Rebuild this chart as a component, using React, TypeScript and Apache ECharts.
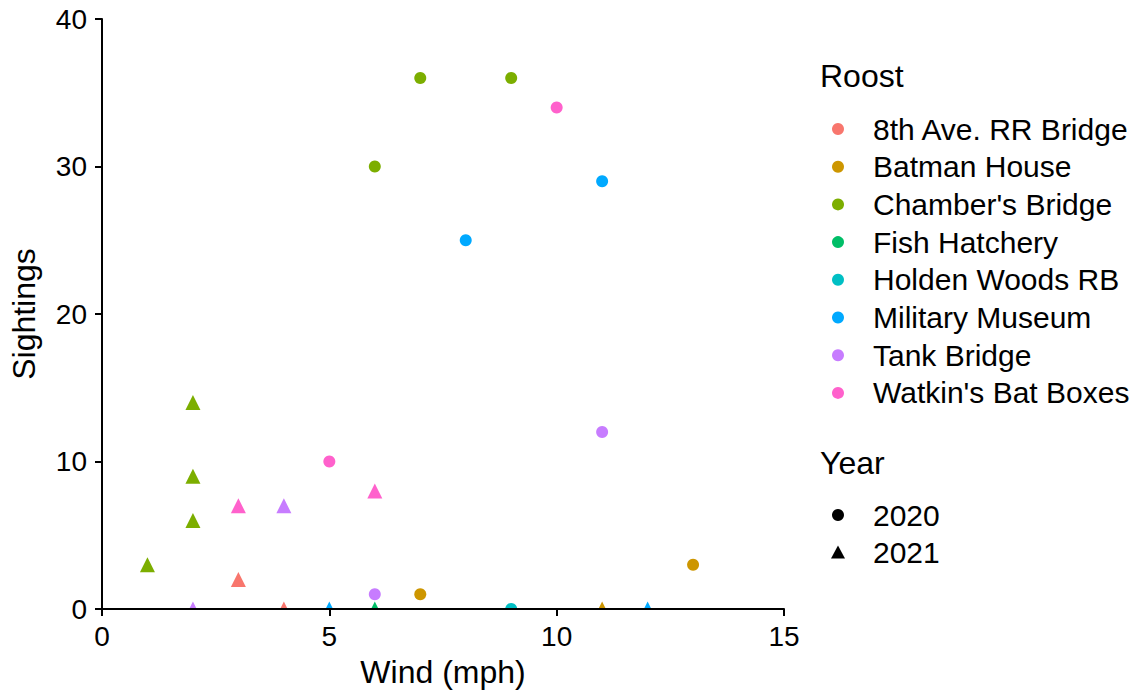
import React, { useEffect, useRef } from "react";
import * as echarts from "echarts";

const roosts = [
  "8th Ave. RR Bridge",
  "Batman House",
  "Chamber's Bridge",
  "Fish Hatchery",
  "Holden Woods RB",
  "Military Museum",
  "Tank Bridge",
  "Watkin's Bat Boxes",
];
const roostColors = ["#F8766D", "#CD9600", "#7CAE00", "#00BE67", "#00BFC4", "#00A9FF", "#C77CFF", "#FF61CC"];
const years = ["2020", "2021"];
const yearSymbols = ["circle", "triangle"];

// 2020 observations
const roost2020 = ["Chamber's Bridge", "Chamber's Bridge", "Chamber's Bridge", "Watkin's Bat Boxes", "Watkin's Bat Boxes", "Military Museum", "Military Museum", "Tank Bridge", "Tank Bridge", "Batman House", "Batman House", "Holden Woods RB"];
const wind2020 = [6, 7, 9, 10, 5, 8, 11, 11, 6, 7, 13, 9];
const sight2020 = [30, 36, 36, 34, 10, 25, 29, 12, 1, 1, 3, 0];

// 2021 observations
const roost2021 = ["Chamber's Bridge", "Chamber's Bridge", "Chamber's Bridge", "Chamber's Bridge", "Watkin's Bat Boxes", "Watkin's Bat Boxes", "Tank Bridge", "Tank Bridge", "8th Ave. RR Bridge", "8th Ave. RR Bridge", "Military Museum", "Military Museum", "Fish Hatchery", "Batman House"];
const wind2021 = [2, 2, 2, 1, 3, 6, 4, 2, 3, 4, 5, 12, 6, 11];
const sight2021 = [14, 9, 6, 3, 7, 8, 7, 0, 2, 0, 0, 0, 0, 0];

const xTicks = [0, 5, 10, 15];
const yTicks = [0, 10, 20, 30, 40];

const FONT = "Liberation Sans, Arial, sans-serif";

export default function App() {
  const ref = useRef<HTMLDivElement>(null);
  useEffect(() => {
    if (!ref.current) return;
    const chart = echarts.init(ref.current, null, { renderer: "svg" });
    const yearData = [
      { roost: roost2020, wind: wind2020, sight: sight2020 },
      { roost: roost2021, wind: wind2021, sight: sight2021 },
    ];
    const series: any[] = [];
    yearData.forEach((yd, yi) => {
      roosts.forEach((r, ri) => {
        const pts: number[][] = [];
        yd.roost.forEach((name, i) => {
          if (name === r) pts.push([yd.wind[i], yd.sight[i]]);
        });
        if (pts.length === 0) return;
        series.push({
          type: "scatter",
          name: r + " " + years[yi],
          data: pts,
          symbol: yearSymbols[yi],
          symbolSize: yi === 0 ? 12 : 15,
          itemStyle: { color: roostColors[ri], opacity: 1 },
          clip: false,
          z: 1,
        });
      });
    });

    const graphic: any[] = [];
    // mask below the panel so that points sitting on y = 0 are clipped like the panel
    graphic.push({ type: "rect", z: 2, shape: { x: 0, y: 609, width: 820, height: 90 }, style: { fill: "#fff" } });
    const lx = 820;
    graphic.push({ type: "text", z: 3, x: lx, y: 76, style: { text: "Roost", font: "32px " + FONT, fill: "#000", verticalAlign: "middle" } });
    roosts.forEach((r, i) => {
      const cy = 129 + i * 37.7;
      graphic.push({ type: "circle", z: 3, shape: { cx: 838, cy, r: 6 }, style: { fill: roostColors[i] } });
      graphic.push({ type: "text", z: 3, x: 873, y: cy, style: { text: r, font: "30px " + FONT, fill: "#000", verticalAlign: "middle" } });
    });
    graphic.push({ type: "text", z: 3, x: lx, y: 463, style: { text: "Year", font: "32px " + FONT, fill: "#000", verticalAlign: "middle" } });
    years.forEach((y, i) => {
      const cy = 515 + i * 37.5;
      if (yearSymbols[i] === "circle") {
        graphic.push({ type: "circle", z: 3, shape: { cx: 838, cy, r: 6 }, style: { fill: "#000" } });
      } else {
        graphic.push({ type: "polygon", z: 3, shape: { points: [[838, cy - 7], [845, cy + 6], [831, cy + 6]] }, style: { fill: "#000" } });
      }
      graphic.push({ type: "text", z: 3, x: 873, y: cy, style: { text: y, font: "30px " + FONT, fill: "#000", verticalAlign: "middle" } });
    });

    chart.setOption({
      animation: false,
      backgroundColor: "#fff",
      textStyle: { fontFamily: FONT },
      grid: { left: 99, right: 350, top: 19, bottom: 87, containLabel: false },
      xAxis: {
        type: "value",
        z: 5,
        min: xTicks[0],
        max: xTicks[xTicks.length - 1],
        interval: 5,
        name: "Wind (mph)",
        nameLocation: "middle",
        nameGap: 47,
        nameTextStyle: { fontSize: 32, color: "#000", fontFamily: FONT },
        axisLine: { show: true, onZero: false, lineStyle: { color: "#000", width: 2 } },
        axisTick: { show: true, length: 7, lineStyle: { color: "#000", width: 2 } },
        axisLabel: { fontSize: 28, color: "#000", margin: 13, fontFamily: FONT },
        splitLine: { show: false },
      },
      yAxis: {
        type: "value",
        z: 5,
        min: yTicks[0],
        max: yTicks[yTicks.length - 1],
        interval: 10,
        name: "Sightings",
        nameLocation: "middle",
        nameGap: 62,
        nameTextStyle: { fontSize: 32, color: "#000", fontFamily: FONT },
        axisLine: { show: true, onZero: false, lineStyle: { color: "#000", width: 2 } },
        axisTick: { show: true, length: 7, lineStyle: { color: "#000", width: 2 } },
        axisLabel: { fontSize: 28, color: "#000", margin: 15, fontFamily: FONT },
        splitLine: { show: false },
      },
      series,
      graphic,
    });
    return () => chart.dispose();
  }, []);
  return <div ref={ref} style={{ width: 1134, height: 696, position: "absolute", left: 0, top: 0 }} />;
}
